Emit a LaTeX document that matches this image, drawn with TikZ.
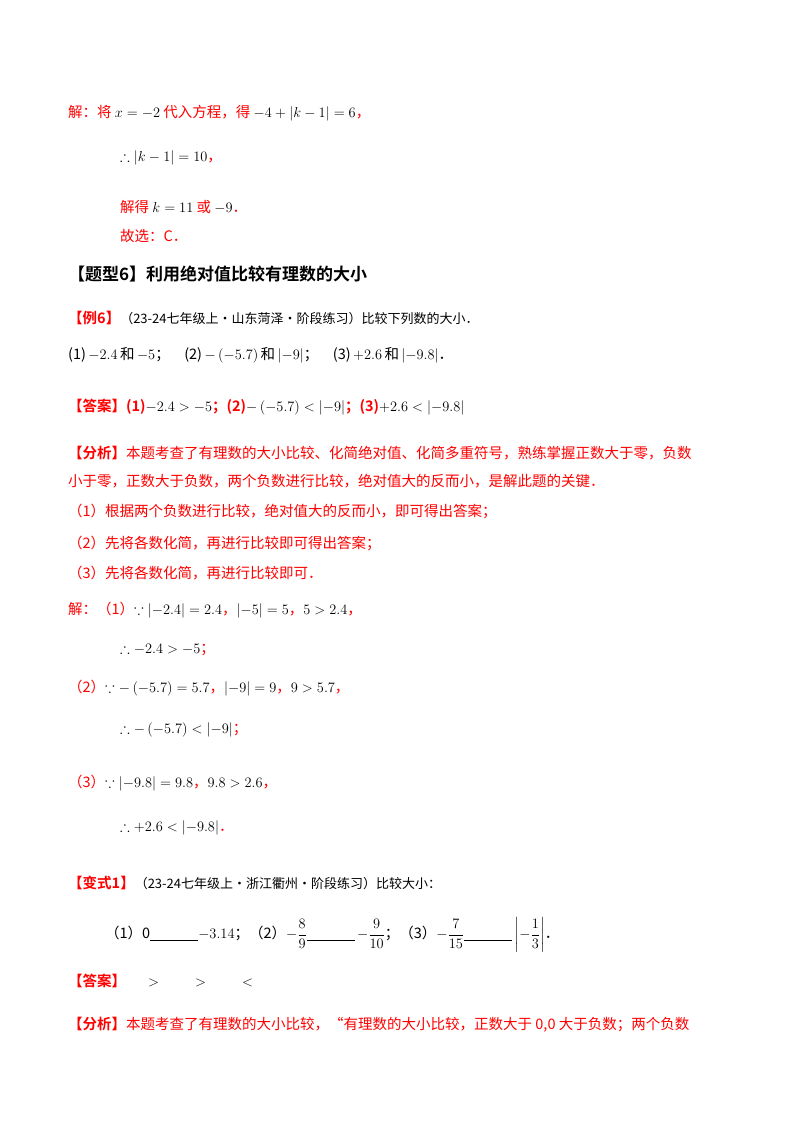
\documentclass[tikz,border=0pt]{standalone}
\usepackage{fontspec}
\usepackage{amsmath,amssymb}
\setmainfont{Noto Sans CJK SC}[BoldFont={Noto Sans CJK SC Bold}]
\newcommand{\mth}[1]{\textcolor{black}{$#1$}}
\newcommand{\fsz}{\fontsize{14.5}{18}\selectfont}
\newcommand{\blnk}{\rule[-2pt]{48pt}{0.6pt}}
\begin{document}
\begin{tikzpicture}[x=1pt,y=-1pt,
  t/.style={anchor=west,inner sep=0pt,font=\fsz},
  r/.style={t,text=red}]
\useasboundingbox (0,0) rectangle (800,1132);
\fill[white] (0,0) rectangle (800,1132);
\node[r] (l1) at (68,113) {解：将 \mth{x=-2} 代入方程，得 \mth{-4+|k-1|=6}，};
\node[r] (l2) at (120,158) {\mth{\therefore |k-1|=10}，};
\node[r] (l3) at (120,207) {解得 \mth{k=11} 或 \mth{-9}．};
\node[r] (l4) at (120,236) {故选：C．};
\node[t,font=\fontsize{17}{20}\selectfont\bfseries] (h) at (68,274) {【题型6】利用绝对值比较有理数的大小};
\node[t] (ex) at (68,318) {\textcolor{red}{\bfseries【例6】}\fontsize{13}{16}\selectfont（23-24七年级上·山东菏泽·阶段练习）比较下列数的大小．};
\node[t] (q) at (68,355) {(1)\,$-2.4$\,和\,$-5$；\quad (2)\,$-\left(-5.7\right)$\,和\,$\left|-9\right|$；\quad (3)\,$+2.6$\,和\,$\left|-9.8\right|$．};
\node[r] (ans) at (68,407) {\bfseries【答案】(1)\mth{-2.4>-5}；(2)\mth{-\left(-5.7\right)<\left|-9\right|}；(3)\mth{+2.6<\left|-9.8\right|}};
\node[r] (a1) at (68,453) {{\bfseries【分析】}本题考查了有理数的大小比较、化简绝对值、化简多重符号，熟练掌握正数大于零，负数};
\node[r] (a2) at (68,481) {小于零，正数大于负数，两个负数进行比较，绝对值大的反而小，是解此题的关键．};
\node[r] (a3) at (68,511) {（1）根据两个负数进行比较，绝对值大的反而小，即可得出答案；};
\node[r] (a4) at (68,543) {（2）先将各数化简，再进行比较即可得出答案；};
\node[r] (a5) at (68,573) {（3）先将各数化简，再进行比较即可．};
\node[r] (s1) at (68,610) {解：（1）\mth{\because\left|-2.4\right|=2.4}，\mth{\left|-5\right|=5}，\mth{5>2.4}，};
\node[r] (s2) at (120,650) {\mth{\therefore -2.4>-5}；};
\node[r] (s3) at (68,688) {（2）\mth{\because -\left(-5.7\right)=5.7}，\mth{\left|-9\right|=9}，\mth{9>5.7}，};
\node[r] (s4) at (120,730) {\mth{\therefore -\left(-5.7\right)<\left|-9\right|}；};
\node[r] (s5) at (68,783) {（3）\mth{\because\left|-9.8\right|=9.8}，\mth{9.8>2.6}，};
\node[r] (s6) at (120,828) {\mth{\therefore +2.6<\left|-9.8\right|}．};
\node[t] (v) at (68,883) {\textcolor{red}{\bfseries【变式1】}\fontsize{13}{16}\selectfont（23-24七年级上·浙江衢州·阶段练习）比较大小：};
\node[t] (vq) at (105,935) {（1）0\blnk$-3.14$；（2）$-\dfrac{8}{9}$\blnk\,$-\dfrac{9}{10}$；（3）$-\dfrac{7}{15}$\blnk\,$\left|-\dfrac{1}{3}\right|$．};
\node[r] (va) at (68,981) {{\bfseries【答案】}\hspace{22pt}\mth{>}\hspace{36pt}\mth{>}\hspace{36pt}\mth{<}};
\node[r] (vb) at (68,1025) {{\bfseries【分析】}本题考查了有理数的大小比较，“有理数的大小比较，正数大于 0,0 大于负数；两个负数};
\end{tikzpicture}
\end{document}
